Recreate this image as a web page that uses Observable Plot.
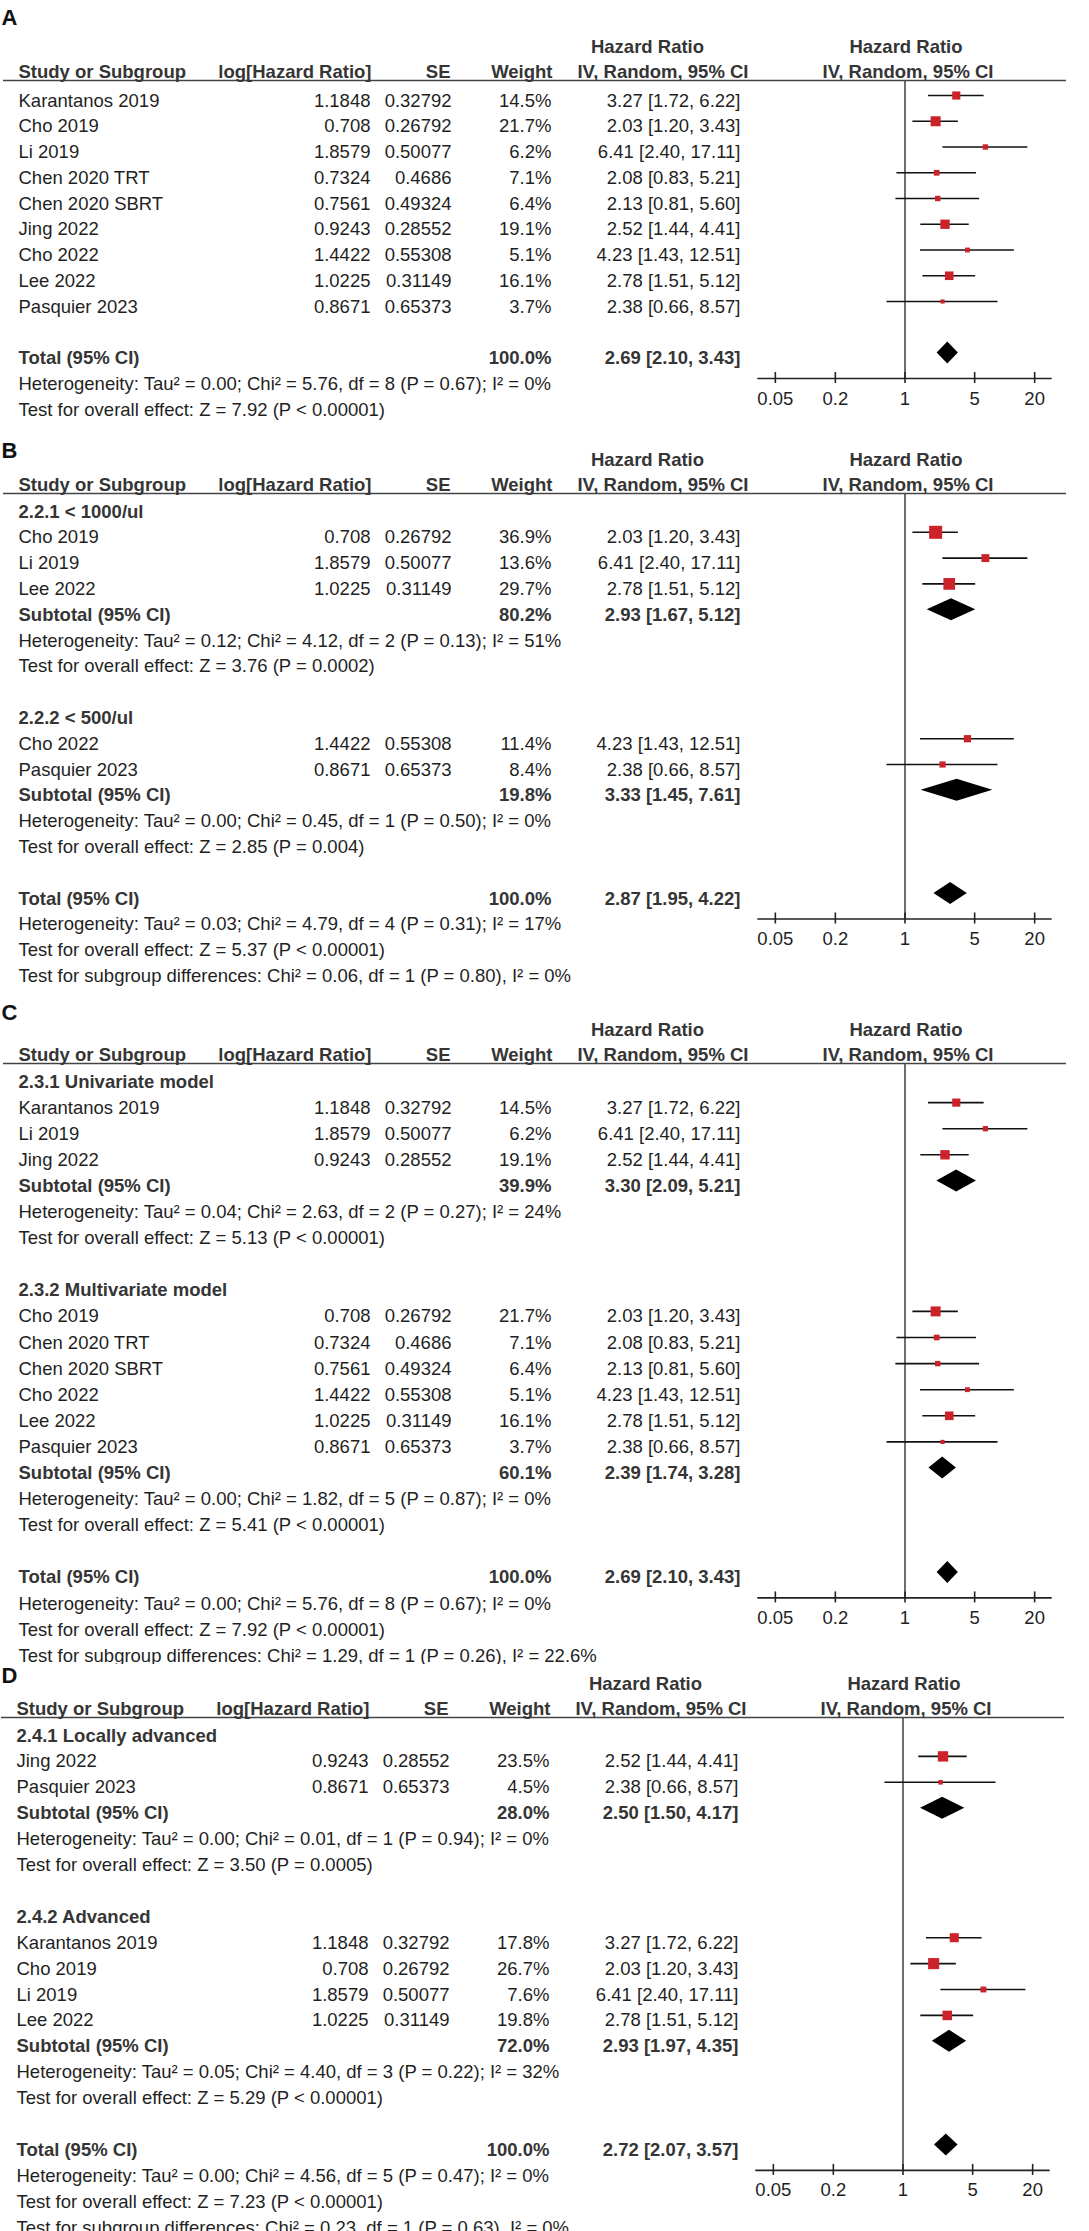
<!DOCTYPE html>
<html><head><meta charset="utf-8">
<script src="https://cdn.jsdelivr.net/npm/d3@7"></script>
<script src="https://cdn.jsdelivr.net/npm/@observablehq/plot@0.6"></script>
<style>
html,body{margin:0;padding:0;background:#fff;overflow:hidden;}
#fig{width:1089px;}
.panel{position:relative;width:1089px;overflow:hidden;}
.panel svg{display:block;max-width:none;}
</style></head><body><div id="fig"></div>
<script>
// ---- shared study data ----
const studyNames = ["Karantanos 2019","Cho 2019","Li 2019","Chen 2020 TRT","Chen 2020 SBRT","Jing 2022","Cho 2022","Lee 2022","Pasquier 2023"];
const logHazardRatio = ["1.1848","0.708","1.8579","0.7324","0.7561","0.9243","1.4422","1.0225","0.8671"];
const standardError = ["0.32792","0.26792","0.50077","0.4686","0.49324","0.28552","0.55308","0.31149","0.65373"];
const hazardRatio = [3.27,2.03,6.41,2.08,2.13,2.52,4.23,2.78,2.38];
const ciLower = [1.72,1.20,2.40,0.83,0.81,1.44,1.43,1.51,0.66];
const ciUpper = [6.22,3.43,17.11,5.21,5.60,4.41,12.51,5.12,8.57];
const tickValues = [0.05,0.2,1,5,20];
const tickLabels = ["0.05","0.2","1","5","20"];

// ---- panel A ----
const studiesA = [0,1,2,3,4,5,6,7,8];
const weightsA = [14.5,21.7,6.2,7.1,6.4,19.1,5.1,16.1,3.7];
const totalA = [2.69,2.10,3.43];
const notesA = ["Heterogeneity: Tau² = 0.00; Chi² = 5.76, df = 8 (P = 0.67); I² = 0%","Test for overall effect: Z = 7.92 (P < 0.00001)"];

// ---- panel B ----
const groupNamesB = ["2.2.1 < 1000/ul","2.2.2 < 500/ul"];
const groupStudiesB = [[1,2,7],[6,8]];
const groupWeightsB = [[36.9,13.6,29.7],[11.4,8.4]];
const subtotalWeightsB = [80.2,19.8];
const subtotalsB = [[2.93,1.67,5.12],[3.33,1.45,7.61]];
const groupNotesB = [["Heterogeneity: Tau² = 0.12; Chi² = 4.12, df = 2 (P = 0.13); I² = 51%","Test for overall effect: Z = 3.76 (P = 0.0002)"],["Heterogeneity: Tau² = 0.00; Chi² = 0.45, df = 1 (P = 0.50); I² = 0%","Test for overall effect: Z = 2.85 (P = 0.004)"]];
const totalB = [2.87,1.95,4.22];
const notesB = ["Heterogeneity: Tau² = 0.03; Chi² = 4.79, df = 4 (P = 0.31); I² = 17%","Test for overall effect: Z = 5.37 (P < 0.00001)","Test for subgroup differences: Chi² = 0.06, df = 1 (P = 0.80), I² = 0%"];

// ---- panel C ----
const groupNamesC = ["2.3.1 Univariate model","2.3.2 Multivariate model"];
const groupStudiesC = [[0,2,5],[1,3,4,6,7,8]];
const groupWeightsC = [[14.5,6.2,19.1],[21.7,7.1,6.4,5.1,16.1,3.7]];
const subtotalWeightsC = [39.9,60.1];
const subtotalsC = [[3.30,2.09,5.21],[2.39,1.74,3.28]];
const groupNotesC = [["Heterogeneity: Tau² = 0.04; Chi² = 2.63, df = 2 (P = 0.27); I² = 24%","Test for overall effect: Z = 5.13 (P < 0.00001)"],["Heterogeneity: Tau² = 0.00; Chi² = 1.82, df = 5 (P = 0.87); I² = 0%","Test for overall effect: Z = 5.41 (P < 0.00001)"]];
const totalC = [2.69,2.10,3.43];
const notesC = ["Heterogeneity: Tau² = 0.00; Chi² = 5.76, df = 8 (P = 0.67); I² = 0%","Test for overall effect: Z = 7.92 (P < 0.00001)","Test for subgroup differences: Chi² = 1.29, df = 1 (P = 0.26), I² = 22.6%"];

// ---- panel D ----
const groupNamesD = ["2.4.1 Locally advanced","2.4.2 Advanced"];
const groupStudiesD = [[5,8],[0,1,2,7]];
const groupWeightsD = [[23.5,4.5],[17.8,26.7,7.6,19.8]];
const subtotalWeightsD = [28.0,72.0];
const subtotalsD = [[2.50,1.50,4.17],[2.93,1.97,4.35]];
const groupNotesD = [["Heterogeneity: Tau² = 0.00; Chi² = 0.01, df = 1 (P = 0.94); I² = 0%","Test for overall effect: Z = 3.50 (P = 0.0005)"],["Heterogeneity: Tau² = 0.05; Chi² = 4.40, df = 3 (P = 0.22); I² = 32%","Test for overall effect: Z = 5.29 (P < 0.00001)"]];
const totalD = [2.72,2.07,3.57];
const notesD = ["Heterogeneity: Tau² = 0.00; Chi² = 4.56, df = 5 (P = 0.47); I² = 0%","Test for overall effect: Z = 7.23 (P < 0.00001)","Test for subgroup differences: Chi² = 0.23, df = 1 (P = 0.63), I² = 0%"];

// ---- build rows ----
function buildRows(groups, total, totalNotes) {
  const rows = []; let i = 0;
  for (const g of groups) {
    if (g.name) rows.push({i: i++, kind: "group", label: g.name});
    g.studies.forEach((s, k) => rows.push({i: i++, kind: "study", label: studyNames[s], lhr: logHazardRatio[s], se: standardError[s], w: g.weights[k], est: hazardRatio[s], lo: ciLower[s], hi: ciUpper[s]}));
    if (g.sub) {
      rows.push({i: i++, kind: "subtotal", label: "Subtotal (95% CI)", w: g.subWeight, est: g.sub[0], lo: g.sub[1], hi: g.sub[2]});
      g.notes.forEach(t => rows.push({i: i++, kind: "note", label: t}));
    }
    i++; // blank line
  }
  const totalIndex = i;
  rows.push({i: i++, kind: "total", label: "Total (95% CI)", w: 100, est: total[0], lo: total[1], hi: total[2]});
  totalNotes.forEach(t => rows.push({i: i++, kind: "note", label: t}));
  return {rows, totalIndex};
}
function grouped(names, studies, weights, subW, subs, notes) {
  return names.map((n, k) => ({name: n, studies: studies[k], weights: weights[k], subWeight: subW[k], sub: subs[k], notes: notes[k]}));
}

const FONT = "'Liberation Sans', Arial, Helvetica, sans-serif";
const INK = "#1f1f1f", HEAD = "#353535", RED = "#cc2229";

function panel(cfg) {
  const {letter, height, row0, rowH, hr1, hr2, ul, letterY, shift, layout} = cfg;
  const {rows, totalIndex} = layout;
  const R = px => (px - row0) / rowH;
  const L = 3 + shift;
  const axisRow = totalIndex + 14.5 / rowH;
  const labelRow = axisRow + 26 / rowH;
  const h = 11 / rowH;
  const G = -11;
  const studies = rows.filter(d => d.kind === "study");
  const pooled = rows.filter(d => d.kind === "subtotal" || d.kind === "total");
  const diamonds = pooled.flatMap(d => [
    {id: d.i, x: d.lo, y1: d.i, y2: d.i},
    {id: d.i, x: d.est, y1: d.i - h, y2: d.i + h},
    {id: d.i, x: d.hi, y1: d.i, y2: d.i}
  ]);
  const plain = rows.filter(d => d.kind === "study" || d.kind === "note");
  const strong = rows.filter(d => d.kind === "group" || d.kind === "subtotal" || d.kind === "total");
  const ci = d => `${d.est.toFixed(2)} [${d.lo.toFixed(2)}, ${d.hi.toFixed(2)}]`;
  const pct = d => d.w.toFixed(1) + "%";
  const col = (data, text, dx, anchor, bold) => Plot.text(data, {y: "i", text, frameAnchor: "left", dx, textAnchor: anchor, lineAnchor: "bottom", fontWeight: bold ? "bold" : "normal", fill: bold ? HEAD : INK});
  const head = (str, dx, y, anchor) => Plot.text([str], {text: d => d, y, frameAnchor: "left", dx, textAnchor: anchor, lineAnchor: "bottom", fontWeight: "bold", fill: HEAD});
  const svg = Plot.plot({
    width: 1089, height,
    marginLeft: L, marginRight: 1089 - 1066 - shift, marginTop: 0, marginBottom: 0,
    x: {type: "log", domain: [1/30, 30], range: [757.3 + shift, 1051.7 + shift], axis: null},
    y: {type: "linear", domain: [0, 1], range: [row0, row0 + rowH], axis: null},
    r: {type: "sqrt", domain: [0, 100], range: [0, 12.1]},
    style: {fontFamily: FONT, fontSize: "18.5px", background: "#fff", color: INK},
    marks: [
      Plot.ruleY([R(ul)], {stroke: "#444", strokeWidth: 1.5}),
      Plot.ruleX([1], {y1: R(ul), y2: axisRow, stroke: "#4a4a4a", strokeWidth: 1.6}),
      Plot.ruleY([axisRow], {x1: 1/30, x2: 30, stroke: "#222", strokeWidth: 1.6}),
      Plot.ruleX(tickValues, {x: d => d, y1: axisRow - 6 / rowH, y2: axisRow + 5 / rowH, stroke: "#222", strokeWidth: 1.6}),
      Plot.text(tickValues, {x: d => d, y: labelRow, text: (d, i) => tickLabels[i], lineAnchor: "bottom", fill: INK}),
      Plot.ruleY(studies, {x1: "lo", x2: "hi", y: "i", dy: G, stroke: "#111", strokeWidth: 1.6}),
      Plot.dot(studies, {x: "est", y: "i", r: "w", symbol: "square", fill: RED, dy: G}),
      Plot.areaY(diamonds, {x: "x", y1: "y1", y2: "y2", z: "id", fill: "#000", dy: G, curve: "linear"}),
      // header
      Plot.text([letter], {text: d => d, y: R(letterY), frameAnchor: "left", dx: -2 - shift, textAnchor: "start", lineAnchor: "bottom", fontWeight: "bold", fontSize: 22, fill: "#111"}),
      head("Hazard Ratio", 644, R(hr1), "middle"),
      Plot.text(["Hazard Ratio"], {text: d => d, x: 1, dx: 1, y: R(hr1), textAnchor: "middle", lineAnchor: "bottom", fontWeight: "bold", fill: HEAD}),
      head("Study or Subgroup", 15, R(hr2), "start"),
      head("log[Hazard Ratio]", 368, R(hr2), "end"),
      head("SE", 447, R(hr2), "end"),
      head("Weight", 549, R(hr2), "end"),
      head("IV, Random, 95% CI", 745, R(hr2), "end"),
      Plot.text(["IV, Random, 95% CI"], {text: d => d, x: 1, dx: 3, y: R(hr2), textAnchor: "middle", lineAnchor: "bottom", fontWeight: "bold", fill: HEAD}),
      // rows
      col(plain, "label", 15, "start", false),
      col(strong, "label", 15, "start", true),
      col(studies, "lhr", 367, "end", false),
      col(studies, "se", 448, "end", false),
      col(studies, pct, 548, "end", false),
      col(pooled, pct, 548, "end", true),
      col(studies, ci, 737, "end", false),
      col(pooled, ci, 737, "end", true)
    ]
  });
  const div = document.createElement("div");
  div.className = "panel";
  div.style.height = height + "px";
  div.appendChild(svg);
  document.getElementById("fig").appendChild(div);
}

panel({letter: "A", height: 434, row0: 106, rowH: 25.75, hr1: 52, hr2: 77, ul: 80, letterY: 24, shift: 0,
  layout: buildRows([{name: null, studies: studiesA, weights: weightsA}], totalA, notesA)});
panel({letter: "B", height: 552, row0: 83, rowH: 25.8, hr1: 31, hr2: 56, ul: 59, letterY: 23, shift: 0,
  layout: buildRows(grouped(groupNamesB, groupStudiesB, groupWeightsB, subtotalWeightsB, subtotalsB, groupNotesB), totalB, notesB)});
panel({letter: "C", height: 678, row0: 101, rowH: 26.1, hr1: 49, hr2: 74, ul: 77, letterY: 33, shift: 0,
  layout: buildRows(grouped(groupNamesC, groupStudiesC, groupWeightsC, subtotalWeightsC, subtotalsC, groupNotesC), totalC, notesC)});
panel({letter: "D", height: 567, row0: 77, rowH: 25.9, hr1: 25, hr2: 50, ul: 53, letterY: 18, shift: -2,
  layout: buildRows(grouped(groupNamesD, groupStudiesD, groupWeightsD, subtotalWeightsD, subtotalsD, groupNotesD), totalD, notesD)});
</script>
</body></html>
